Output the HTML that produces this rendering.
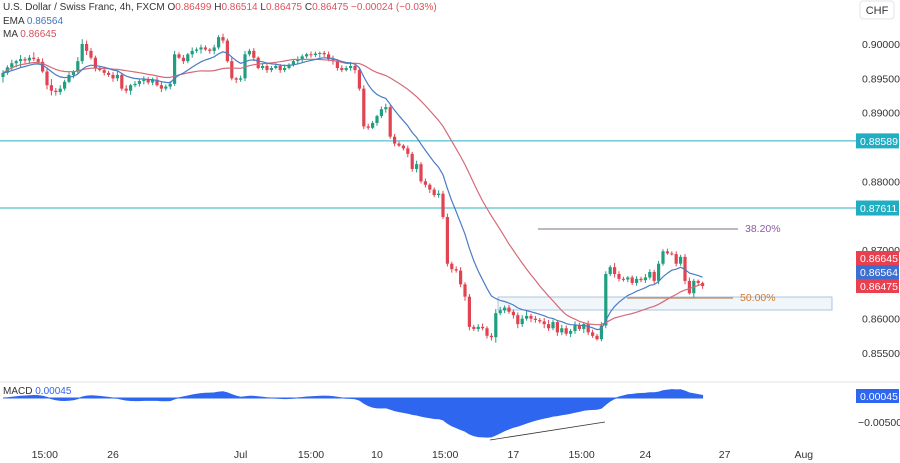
<!DOCTYPE html>
<html><head><meta charset="utf-8"><style>
body{margin:0;background:#fff;font-family:"Liberation Sans",sans-serif;}
svg{display:block}
text{font-family:"Liberation Sans",sans-serif;}
</style></head><body>
<svg id="c" width="900" height="463" viewBox="0 0 900 463">
<g font-size="10">
<text x="3" y="10" fill="#333">U.S. Dollar / Swiss Franc, 4h, FXCM  <tspan fill="#333">O</tspan><tspan fill="#e0505a">0.86499</tspan>  <tspan fill="#333">H</tspan><tspan fill="#e0505a">0.86514</tspan>  <tspan fill="#333">L</tspan><tspan fill="#e0505a">0.86475</tspan>  <tspan fill="#333">C</tspan><tspan fill="#e0505a">0.86475</tspan>  <tspan fill="#e0505a">−0.00024 (−0.03%)</tspan></text>
<text x="3" y="24" fill="#333">EMA <tspan fill="#3f74c4">0.86564</tspan></text>
<text x="3" y="37" fill="#333">MA <tspan fill="#d0505e">0.86645</tspan></text>
</g>
<rect x="860" y="1" width="34" height="18" rx="3" fill="#fff" stroke="#e0e3eb"/>
<text x="877" y="14" font-size="11" fill="#333" text-anchor="middle">CHF</text>
<line x1="0" y1="382" x2="900" y2="382" stroke="#e0e3eb"/>
<g id="axisP"></g>
<g id="lvls"></g>
<g id="cand"></g>
<g id="lines"></g>
<g id="macd"></g>
<g id="xax"></g>
</svg>
<script>
const closes=[.8958,.8966,.8972,.8975,.8978,.8976,.8980,.8978,.8974,.8960,.8940,.8932,.8930,.8935,.8945,.8955,.8960,.8975,.9000,.8990,
.8980,.8965,.8962,.8958,.8955,.8950,.8955,.8935,.8932,.8940,.8942,.8946,.8948,.8944,.8948,.8940,.8935,.8938,.8942,.8985,
.8980,.8975,.8985,.8990,.8992,.8995,.8992,.8990,.8995,.9010,.9005,.8975,.8950,.8948,.8950,.8985,.8990,.8980,.8965,.8968,
.8962,.8965,.8968,.8962,.8965,.8970,.8975,.8978,.8982,.8985,.8984,.8986,.8987,.8985,.8978,.8975,.8965,.8962,.8965,.8968,
.8962,.8935,.8880,.8878,.8885,.8895,.8905,.8908,.8865,.8855,.8852,.8848,.8840,.8818,.8825,.8800,.8795,.8788,.8780,.8782,
.8748,.8680,.8672,.8670,.8650,.8632,.8588,.8585,.8588,.8586,.8575,.8573,.8608,.8612,.8616,.8610,.8605,.8592,.8600,.8604,
.8600,.8598,.8596,.8592,.8586,.8595,.8580,.8586,.8578,.8582,.8590,.8585,.8592,.8580,.8575,.8570,.8590,.8665,.8675,.8665,
.8658,.8657,.8660,.8652,.8658,.8656,.8660,.8668,.8655,.8680,.8698,.8695,.8694,.8680,.8690,.8655,.8637,.8655,.8652,.86475];
const firstOpen=.8952;
const wicks=[4,3,5,2,6,3,4,8,3,5,6,9,4,5,3,4,2,6,7,5,4,3,2,5,3,4,6,3,5,2,4,3,5,4,3,4,6,3,4,5,
3,4,2,5,3,4,3,2,4,3,5,3,6,2,4,5,3,4,2,3,5,3,4,3,5,2,3,4,3,2,4,3,2,3,4,5,3,4,3,6,
4,3,5,4,3,2,4,5,3,4,3,2,4,3,5,3,4,2,3,5,4,5,3,4,5,3,4,3,4,5,3,4,6,5,3,4,3,4,5,8,
3,4,3,5,6,4,3,5,4,3,6,4,3,5,4,3,5,4,3,6,4,3,2,3,4,3,5,4,3,4,3,4,3,4,3,4,5,3,2,2];
const priceTicks=[0.900,0.895,0.890,0.880,0.870,0.860,0.855];
const levels=[0.88589,0.87611];
const tagVals=[0.86645,0.86564,0.86475];
const timeLabels=["15:00","26","Jul","15:00","10","15:00","17","15:00","24","27","Aug"];
const timeIdx=[9.5,25,54,70,85,100.5,116,131.5,146,164,182];

const NS="http://www.w3.org/2000/svg";
function yP(p){return 44+(0.9-p)*6866;}
function xI(i){return 3+i*4.4;}
function yM(v){return 398-v*4770;}
function mk(tag,attrs,parent){const e=document.createElementNS(NS,tag);for(const k in attrs)e.setAttribute(k,attrs[k]);parent.appendChild(e);return e;}
const G=id=>document.getElementById(id);

priceTicks.forEach(p=>{
 const t=mk('text',{x:862,y:yP(p)+4,'font-size':10.5,fill:'#333'},G('axisP'));
 t.textContent=p.toFixed(5);
 
 
});
levels.forEach(p=>{
 const l=mk('line',{x1:0,x2:856,y1:yP(p),y2:yP(p),stroke:'#2ab0c0','stroke-width':1},G('lvls'));
 
 
 const r=mk('rect',{x:856,y:yP(p)-7.5,width:43,height:15,fill:'#22aec2'},G('lvls'));
 
 
 const t=mk('text',{x:860,y:yP(p)+4,'font-size':10.5,fill:'#fff'},G('lvls'));
 t.textContent=p.toFixed(5);
 
 
});
const zone=mk('rect',{x:498,y:297,width:334,height:13,fill:'rgba(180,205,235,0.18)',stroke:'#9ab8d8','stroke-width':0.8},G('lvls'));


const f1=mk('line',{x1:538,x2:738,y1:229,y2:229,stroke:'#9a8a9a','stroke-width':1.2},G('lvls'));


const f1t=mk('text',{x:745,y:232,'font-size':10.5,fill:'#8a5aa8'},G('lvls'));f1t.textContent='38.20%';


const f2=mk('line',{x1:627,x2:733,y1:298,y2:298,stroke:'#c08860','stroke-width':1.2},G('lvls'));


const f2t=mk('text',{x:740,y:301,'font-size':10.5,fill:'#d07a30'},G('lvls'));f2t.textContent='50.00%';



closes.forEach((c,i)=>{
 const o=i?closes[i-1]:firstOpen;
 const up=c>=o, col=up?'#1f9e80':'#e04452';
 const hi=Math.max(o,c)+wicks[i]*0.0001, lo=Math.min(o,c)-wicks[(i+7)%wicks.length]*0.0001;
 const w=mk('line',{x1:xI(i),x2:xI(i),y1:yP(hi),y2:yP(lo),stroke:col,'stroke-width':1},G('cand'));
 
 
 const b=mk('rect',{x:xI(i)-1.6,width:3.2,y:yP(Math.max(o,c)),height:Math.max(1,Math.abs(yP(o)-yP(c))),fill:col},G('cand'));
 
 
});
function ema(n){const k=2/(n+1);let e=closes[0];return closes.map(c=>(e=c*k+e*(1-k)));}
const ma=closes.map((c,i)=>{const s=closes.slice(Math.max(0,i-27),i+1);return s.reduce((a,b)=>a+b,0)/s.length;});
const em=ema(12);
function pl(arr,col,name){const d=arr.map((v,i)=>(i?'L':'M')+xI(i).toFixed(1)+','+yP(v).toFixed(1)).join('');
 const p=mk('path',{d:d,fill:'none',stroke:col,'stroke-width':1.2},G('lines'));
 
 }
pl(ma,'#d46a78','ma-line');pl(em,'#4a7cc4','ema-line');
tagVals.forEach((v,i)=>{
 const r=mk('rect',{x:856,y:251+i*14,width:43,height:14,fill:i==1?'#3d6fd0':'#e8404e'},G('lines'));
 
 
 const t=mk('text',{x:860,y:262+i*14,'font-size':10.5,fill:'#fff'},G('lines'));t.textContent=v.toFixed(5);
 
 
});
const e12=ema(12),e26=ema(26);const macd=closes.map((c,i)=>e12[i]-e26[i]);
let d='M'+xI(0)+','+yM(0);macd.forEach((v,i)=>d+='L'+xI(i).toFixed(1)+','+yM(v).toFixed(1));d+='L'+xI(macd.length-1)+','+yM(0)+'Z';
const mp=mk('path',{d:d,fill:'#2f66f0',stroke:'#2f66f0','stroke-width':1},G('macd'));


const ml=mk('text',{x:3,y:394,'font-size':10,fill:'#333'},G('macd'));ml.innerHTML='MACD <tspan fill="#2f66f0">0.00045</tspan>';


const mr=mk('rect',{x:856,y:389,width:43,height:14,fill:'#2f66f0'},G('macd'));


const mt=mk('text',{x:860,y:400,'font-size':10.5,fill:'#fff'},G('macd'));mt.textContent='0.00045';


const mt2=mk('text',{x:858,y:426,'font-size':10.5,fill:'#333'},G('macd'));mt2.textContent='−0.00500';


const tl=mk('line',{x1:490,y1:440,x2:605,y2:422,stroke:'#333','stroke-width':0.8},G('macd'));


timeLabels.forEach((s,i)=>{
 const t=mk('text',{x:xI(timeIdx[i]),y:458,'font-size':10.5,fill:'#333','text-anchor':'middle'},G('xax'));t.textContent=s;
 
 
});
</script>
</body></html>
